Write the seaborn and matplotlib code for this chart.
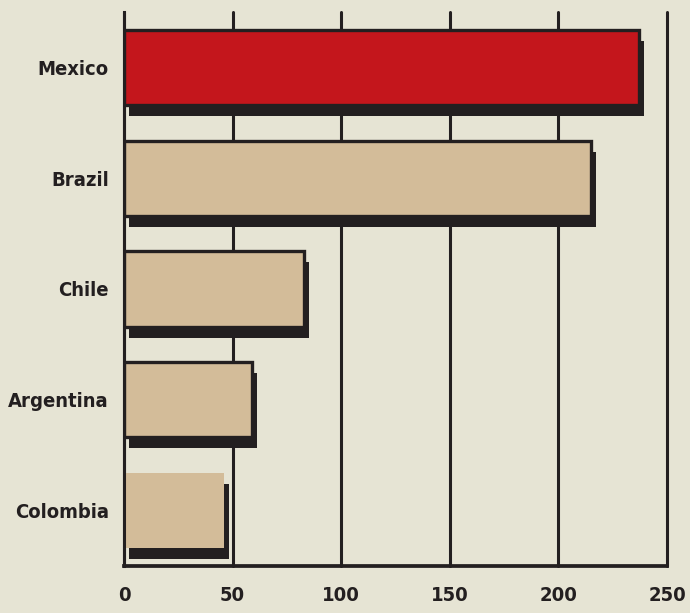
import matplotlib
matplotlib.use("Agg")
import matplotlib.pyplot as plt
import matplotlib.patheffects as pe
import seaborn as sns
import pandas as pd

# Data
countries = ["Mexico", "Brazil", "Chile", "Argentina", "Colombia"]
values = [237, 215, 83, 59, 46]
x_ticks = [0, 50, 100, 150, 200, 250]

BG = "#e6e4d4"
INK = "#231f20"
RED = "#c4161c"
TAN = "#d3bc99"

sns.set_theme(style="white")
plt.rcParams["font.family"] = ["DejaVu Sans"]

label_font = dict(family="DejaVu Sans", stretch="condensed", weight="bold", size=14.5)

df = pd.DataFrame({"country": countries, "value": values})
palette = {c: (RED if c == "Mexico" else TAN) for c in countries}

fig = plt.figure(figsize=(6.9, 6.13), dpi=100, facecolor=BG)
ax = fig.add_axes([0.1797, 0.0767, 0.787, 0.9037])
ax.set_facecolor(BG)

sns.barplot(data=df, y="country", x="value", hue="country", palette=palette,
            order=countries, orient="h", width=0.68, saturation=1,
            legend=False, ax=ax)

# Solid black drop shadow under every bar
shadow = [pe.SimplePatchShadow(offset=(3.6, -7.9), shadow_rgbFace=INK, alpha=1.0),
          pe.Normal()]
for bar, name in zip(ax.patches, countries):
    if name == "Colombia":
        bar.set_edgecolor("none")
        bar.set_linewidth(0)
    else:
        bar.set_edgecolor(INK)
        bar.set_linewidth(2.4)
    bar.set_path_effects(shadow)
    bar.set_zorder(3)

ax.set_xlim(0, 250)
ax.set_ylim(4.5, -0.5)
ax.set_xticks(x_ticks)
ax.set_xticklabels([str(t) for t in x_ticks], **label_font)
ax.set_yticks(range(len(countries)))
ax.set_yticklabels(countries, **label_font)

ax.grid(axis="x", color=INK, linewidth=2.2)
ax.grid(axis="y", visible=False)
ax.set_axisbelow(True)
for line in ax.get_xgridlines():
    line.set_clip_on(False)

for side in ("top", "right"):
    ax.spines[side].set_visible(False)
ax.spines["left"].set_color(INK)
ax.spines["left"].set_linewidth(2.2)
ax.spines["bottom"].set_color(INK)
ax.spines["bottom"].set_linewidth(2.7)
ax.spines["left"].set_zorder(4)

ax.tick_params(axis="x", direction="out", length=9.5, width=2.2, color=INK,
               pad=5, labelcolor=INK)
ax.tick_params(axis="y", length=0, pad=11, labelcolor=INK)
ax.set_xlabel("")
ax.set_ylabel("")

fig.savefig("out.png", dpi=100, facecolor=BG)
